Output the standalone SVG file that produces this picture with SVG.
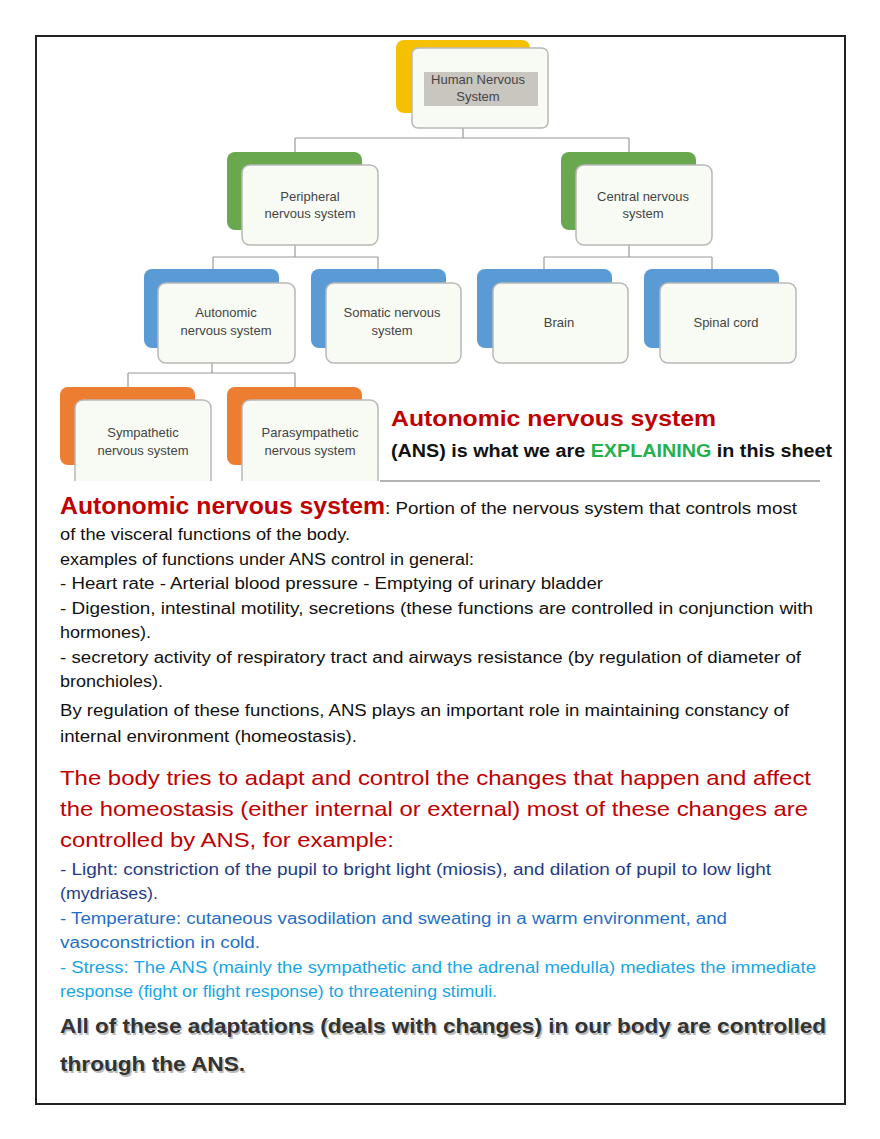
<svg xmlns="http://www.w3.org/2000/svg" width="880" height="1139" viewBox="0 0 880 1139">
<style>
.bk{stroke:none}
.fr{fill:#f7fbf4;stroke:#b8b8b8;stroke-width:1.5}
.nt{font-family:"Liberation Sans",Arial,sans-serif;font-size:13px;fill:#444;text-anchor:middle}
.ln{fill:none;stroke:#999;stroke-width:1.2}
.b{font-family:"Liberation Sans",Arial,sans-serif;font-size:16px;fill:#111}
.r{font-family:"Liberation Sans",Arial,sans-serif;font-size:21px;fill:#c00000}
</style>
<rect width="880" height="1139" fill="#fff"/>
<rect x="36" y="36" width="809" height="1068" fill="none" stroke="#222" stroke-width="2"/>
<g id="connectors">
<path class="ln" d="M463 128V138M295 138H629M295 138V152M629 138V152"/>
<path class="ln" d="M295 245V257M213 257H378M213 257V269M378 257V283"/>
<path class="ln" d="M629 245V257M544 257H712M544 257V269M712 257V283"/>
<path class="ln" d="M212 363V373M128 373H295M128 373V387M295 373V400"/>
</g>
<g id="human">
<rect x="396" y="40" width="134" height="73" rx="8" fill="#f5c000"/>
<rect class="fr" x="412" y="48" width="136" height="80" rx="6" fill="#fdfdf0"/>
<rect x="424" y="72" width="114" height="34" fill="#c9c6c0"/>
<text class="nt" x="478" y="84">Human Nervous</text><text class="nt" x="478" y="101">System</text>
</g>
<g id="peripheral">
<rect x="227" y="152" width="135" height="78" rx="8" fill="#6aa84f"/>
<rect class="fr" x="242" y="165" width="136" height="80" rx="8"/>
<text class="nt" x="310" y="201">Peripheral</text><text class="nt" x="310" y="218">nervous system</text>
</g>
<g id="central">
<rect x="561" y="152" width="135" height="78" rx="8" fill="#6aa84f"/>
<rect class="fr" x="576" y="165" width="136" height="80" rx="8"/>
<text class="nt" x="643" y="201">Central nervous</text><text class="nt" x="643" y="218">system</text>
</g>
<g id="autonomic">
<rect x="144" y="269" width="135" height="79" rx="8" fill="#5b9bd5"/>
<rect class="fr" x="158" y="283" width="137" height="80" rx="8" fill="#f3f8fc"/>
<text class="nt" x="226" y="317">Autonomic</text><text class="nt" x="226" y="335">nervous system</text>
</g>
<g id="somatic">
<rect x="311" y="269" width="135" height="79" rx="8" fill="#5b9bd5"/>
<rect class="fr" x="326" y="283" width="135" height="80" rx="8" fill="#f3f8fc"/>
<text class="nt" x="392" y="317">Somatic nervous</text><text class="nt" x="392" y="335">system</text>
</g>
<g id="brain">
<rect x="477" y="269" width="135" height="79" rx="8" fill="#5b9bd5"/>
<rect class="fr" x="493" y="283" width="135" height="80" rx="8" fill="#f3f8fc"/>
<text class="nt" x="559" y="327">Brain</text>
</g>
<g id="spinal">
<rect x="644" y="269" width="135" height="79" rx="8" fill="#5b9bd5"/>
<rect class="fr" x="660" y="283" width="136" height="80" rx="8" fill="#f3f8fc"/>
<text class="nt" x="726" y="327">Spinal cord</text>
</g>
<g id="sympathetic">
<rect x="60" y="387" width="135" height="78" rx="8" fill="#ed7d31"/>
<rect class="fr" x="75" y="400" width="136" height="90" rx="8" fill="#fdf5f0"/>
<text class="nt" x="143" y="437">Sympathetic</text><text class="nt" x="143" y="455">nervous system</text>
</g>
<g id="parasympathetic">
<rect x="227" y="387" width="135" height="78" rx="8" fill="#ed7d31"/>
<rect class="fr" x="242" y="400" width="136" height="90" rx="8" fill="#fdf5f0"/>
<text class="nt" x="310" y="437">Parasympathetic</text><text class="nt" x="310" y="455">nervous system</text>
</g>
<rect x="37" y="481" width="807" height="10" fill="#fff"/>
<line x1="380" y1="481" x2="820" y2="481" stroke="#999" stroke-width="1.5"/>
<text x="391" y="426" font-family="Liberation Sans,Arial,sans-serif" font-size="22" font-weight="bold" fill="#c00000" textLength="325" lengthAdjust="spacingAndGlyphs">Autonomic nervous system</text>
<text x="391" y="457" font-family="Liberation Sans,Arial,sans-serif" font-size="18" font-weight="bold" fill="#111" textLength="441" lengthAdjust="spacingAndGlyphs">(ANS) is what we are <tspan fill="#22b14c">EXPLAINING</tspan> in this sheet</text>
<text x="60" y="514" font-family="Liberation Sans,Arial,sans-serif" font-size="23" font-weight="bold" fill="#c00000" textLength="325" lengthAdjust="spacingAndGlyphs">Autonomic nervous system</text>
<text class="b" x="385" y="514" textLength="412" lengthAdjust="spacingAndGlyphs">: Portion of the nervous system that controls most</text>
<text class="b" x="60" y="540" textLength="290" lengthAdjust="spacingAndGlyphs">of the visceral functions of the body.</text>
<text class="b" x="60" y="565" textLength="414" lengthAdjust="spacingAndGlyphs">examples of functions under ANS control in general:</text>
<text class="b" x="60" y="589" textLength="543" lengthAdjust="spacingAndGlyphs">- Heart rate - Arterial blood pressure - Emptying of urinary bladder</text>
<text class="b" x="60" y="614" textLength="753" lengthAdjust="spacingAndGlyphs">- Digestion, intestinal motility, secretions (these functions are controlled in conjunction with</text>
<text class="b" x="60" y="638" textLength="91" lengthAdjust="spacingAndGlyphs">hormones).</text>
<text class="b" x="60" y="663" textLength="741" lengthAdjust="spacingAndGlyphs">- secretory activity of respiratory tract and airways resistance (by regulation of diameter of</text>
<text class="b" x="60" y="687" textLength="103" lengthAdjust="spacingAndGlyphs">bronchioles).</text>
<text class="b" x="60" y="716" textLength="729" lengthAdjust="spacingAndGlyphs">By regulation of these functions, ANS plays an important role in maintaining constancy of</text>
<text class="b" x="60" y="742" textLength="297" lengthAdjust="spacingAndGlyphs">internal environment (homeostasis).</text>
<text class="r" x="60" y="785" textLength="751" lengthAdjust="spacingAndGlyphs">The body tries to adapt and control the changes that happen and affect</text>
<text class="r" x="60" y="816" textLength="748" lengthAdjust="spacingAndGlyphs">the homeostasis (either internal or external) most of these changes are</text>
<text class="r" x="60" y="847" textLength="334" lengthAdjust="spacingAndGlyphs">controlled by ANS, for example:</text>
<text class="b" x="60" y="875" fill="#1f3c88" style="fill:#1f3c88" textLength="711" lengthAdjust="spacingAndGlyphs">- Light: constriction of the pupil to bright light (miosis), and dilation of pupil to low light</text>
<text class="b" x="60" y="899" style="fill:#1f3c88" textLength="98" lengthAdjust="spacingAndGlyphs">(mydriases).</text>
<text class="b" x="60" y="924" style="fill:#1f6fc8" textLength="667" lengthAdjust="spacingAndGlyphs">- Temperature: cutaneous vasodilation and sweating in a warm environment, and</text>
<text class="b" x="60" y="948" style="fill:#1f6fc8" textLength="200" lengthAdjust="spacingAndGlyphs">vasoconstriction in cold.</text>
<text class="b" x="60" y="973" style="fill:#16a6e6" textLength="756" lengthAdjust="spacingAndGlyphs">- Stress: The ANS (mainly the sympathetic and the adrenal medulla) mediates the immediate</text>
<text class="b" x="60" y="997" style="fill:#16a6e6" textLength="437" lengthAdjust="spacingAndGlyphs">response (fight or flight response) to threatening stimuli.</text>
<g font-family="Liberation Sans,Arial,sans-serif" font-size="21" font-weight="bold">
<text x="61.5" y="1034.5" fill="#bbb" textLength="766" lengthAdjust="spacingAndGlyphs">All of these adaptations (deals with changes) in our body are controlled</text>
<text x="60" y="1033" fill="#333" textLength="766" lengthAdjust="spacingAndGlyphs">All of these adaptations (deals with changes) in our body are controlled</text>
<text x="61.5" y="1072.5" fill="#bbb" textLength="185" lengthAdjust="spacingAndGlyphs">through the ANS.</text>
<text x="60" y="1071" fill="#333" textLength="185" lengthAdjust="spacingAndGlyphs">through the ANS.</text>
</g>
</svg>
